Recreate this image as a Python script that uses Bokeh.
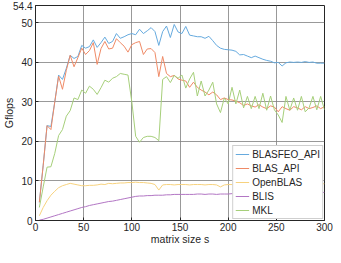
from bokeh.plotting import figure
from bokeh.models import Range1d, FixedTicker
from bokeh.embed import file_html
from bokeh.resources import INLINE

sizes = [4, 8, 12, 16, 20, 24, 28, 32, 36, 40, 44, 48, 52, 56, 60, 64, 68, 72, 76, 80,
         84, 88, 92, 96, 100, 104, 108, 112, 116, 120, 124, 128, 132, 136, 140, 144, 148, 152, 156, 160,
         164, 168, 172, 176, 180, 184, 188, 192, 196, 200, 204, 208, 212, 216, 220, 224, 228, 232, 236, 240,
         244, 248, 252, 256, 260, 264, 268, 272, 276, 280, 284, 288, 292, 296, 300]

blasfeo_api = [4.6, 14, 24, 23.8, 30, 36.8, 35.7, 38.5, 41.8, 41, 41.5, 44.3, 43.6, 44, 45.7, 43.8, 45, 46.4, 44.8, 45.3,
               47.3, 46.1, 46.5, 47, 47.3, 47, 48.4, 47.3, 48, 48.8, 47.8, 44.3, 47.8, 49.2, 46.3, 49.6, 47.7, 47.3, 49.1, 46.9,
               46.7, 46.5, 46.5, 46.1, 46.6, 45.5, 44.3, 43.6, 43.3, 43.2, 43.1, 42.8, 41.9, 42.0, 41.6, 41.2, 41.6, 41.2, 40.8, 40.5,
               40.3, 39.9, 40.0, 39.1, 39.9, 40.1, 40.0, 40.1, 40.0, 40.2, 40.0, 40.1, 39.8, 39.8, 39.8]

blas_api = [4.6, 14, 24, 23, 30, 36.5, 33.2, 38, 41.8, 38.9, 41.2, 43.6, 42, 43, 45, 39.5, 43.5, 45.3, 43.4, 43.6,
            46, 45, 44.1, 42.6, 44.5, 45, 45.3, 42, 43.4, 43.5, 42.5, 36.4, 41.5, 37.2, 36.4, 36.7, 35.8, 35.5, 35.3, 33.7,
            35, 33.7, 33, 32.5, 31.8, 32.5, 31.8, 30.6, 31, 30.6, 30.5, 30.2, 29.8, 29.1, 29.5, 29, 28.7, 29.3, 28.7, 28.3,
            29.0, 28.7, 27.5, 28.8, 28.3, 27.9, 28.8, 28.5, 28.0, 28.8, 28.3, 28.6, 29.0, 28.3, 28.8]

openblas = [1.2, 3.3, 5.0, 6.4, 7.4, 8.3, 8.8, 9.1, 9.4, 9.2, 9.0, 8.8, 8.8, 8.9, 8.9, 9.0, 9.2, 9.1, 9.4, 9.3,
            9.4, 9.5, 9.5, 9.6, 9.6, 9.7, 9.6, 9.6, 9.5, 9.4, 9.1, 7.7, 9.0, 9.1, 9.1, 9.0, 9.1, 9.1, 9.1, 9.0,
            9.1, 9.1, 9.1, 9.0, 9.1, 9.1, 9.0, 8.5, 9.0, 9.1, 9.1, 9.0, 9.1, 9.2, 9.2, 9.2, 9.3, 9.3, 9.3, 9.3,
            9.3, 9.3, 9.3, 9.3, 9.3, 9.3, 9.3, 9.3, 9.3, 9.3, 9.3, 9.3, 9.3, 9.3, 9.3]

blis = [0.1, 0.3, 0.6, 0.9, 1.2, 1.5, 1.8, 2.1, 2.4, 2.7, 3.0, 3.3, 3.5, 3.8, 4.0, 4.2, 4.4, 4.6, 4.8, 4.9,
        5.1, 5.3, 5.5, 5.7, 5.9, 6.1, 6.2, 6.2, 6.3, 6.3, 6.4, 6.4, 6.4, 6.5, 6.5, 6.6, 6.6, 6.6, 6.6, 6.6,
        6.6, 6.7, 6.7, 6.6, 6.7, 6.7, 6.6, 6.7, 6.7, 6.7, 6.8, 6.8, 6.7, 6.8, 6.8, 6.8, 6.9, 6.9, 6.9, 6.9,
        6.9, 7.0, 7.0, 7.0, 7.0, 7.0, 7.0, 7.0, 7.1, 7.1, 7.1, 7.1, 7.1, 7.1, 7.1]

mkl = [3.3, 8.5, 13.5, 13.6, 17, 21.5, 23, 26.4, 27.8, 31, 30.6, 33, 32.2, 34, 33.2, 31.9, 33.6, 35.5, 35, 36,
       36.4, 37.2, 37, 36.8, 30, 21.3, 19.8, 21, 21.3, 21.3, 21, 20.2, 35.7, 36.4, 34.9, 36.7, 36, 36.8, 33.5, 35.8,
       37.5, 31.5, 35.3, 31.5, 33, 35, 29.5, 27.3, 31, 29.5, 33.7, 29.5, 33, 28.5, 31.4, 28.3, 31.4, 28.3, 32.2, 27.9,
       31.5, 28, 26.7, 24.8, 31.4, 27.9, 31, 27.9, 31.4, 27.5, 28.5, 31.4, 28, 31.4, 28]

series_names = ["BLASFEO_API", "BLAS_API", "OpenBLAS", "BLIS", "MKL"]
series_colors = ["#66aade", "#ef8a66", "#f7d27e", "#b276c4", "#a6cf7a"]

x_ticks = [0, 50, 100, 150, 200, 250, 300]
y_ticks = [0, 10, 20, 30, 40, 50, 54.4]
y_tick_labels = ["0", "10", "20", "30", "40", "50", "54.4"]
x_title = "matrix size s"
y_title = "Gflops"

FONT = "Liberation Sans"
INK = "#262626"

p = figure(width=333, height=247, output_backend="svg", toolbar_location=None,
           x_range=Range1d(0, 300), y_range=Range1d(0, 54.4),
           min_border_left=30, min_border_right=9, min_border_top=5, min_border_bottom=0,
           x_axis_label=x_title, y_axis_label=y_title)

all_series = [blasfeo_api, blas_api, openblas, blis, mkl]
for vals, name, col in zip(all_series, series_names, series_colors):
    p.line(sizes, vals, line_color=col, line_width=1, legend_label=name)

p.xaxis.ticker = FixedTicker(ticks=x_ticks)
p.xaxis.major_label_overrides = {t: str(t) for t in x_ticks}
p.yaxis.ticker = FixedTicker(ticks=y_ticks)
p.yaxis.major_label_overrides = {t: l for t, l in zip(y_ticks, y_tick_labels)}

for ax in (p.xaxis, p.yaxis):
    ax.major_tick_in = 3
    ax.major_tick_out = 0
    ax.minor_tick_line_color = None
    ax.axis_line_color = INK
    ax.major_tick_line_color = INK
    ax.major_label_text_font = FONT
    ax.major_label_text_font_size = "10px"
    ax.major_label_text_color = INK
    ax.axis_label_text_font = FONT
    ax.axis_label_text_font_size = "10.5px"
    ax.axis_label_text_font_style = "normal"
    ax.axis_label_text_color = INK

p.xaxis.major_label_standoff = 2
p.xaxis.axis_label_standoff = -1
p.yaxis.major_label_standoff = 3
p.yaxis.axis_label_standoff = -5

p.grid.grid_line_color = "#808080"
p.grid.grid_line_alpha = 0.8
p.xgrid.ticker = FixedTicker(ticks=x_ticks)
p.ygrid.ticker = FixedTicker(ticks=[0, 10, 20, 30, 40, 50])

p.outline_line_color = INK
p.background_fill_color = "white"

lg = p.legend[0]
lg.location = "bottom_right"
lg.margin = 1
lg.padding = 2
lg.spacing = 2
lg.glyph_width = 14
lg.glyph_height = 12
lg.label_height = 12
lg.label_standoff = 3
lg.label_text_font = FONT
lg.label_text_font_size = "10px"
lg.label_text_color = INK
lg.border_line_color = "#a0a0a0"
lg.background_fill_color = "white"
lg.background_fill_alpha = 1.0

open("out.html", "w").write(file_html(p, INLINE))
